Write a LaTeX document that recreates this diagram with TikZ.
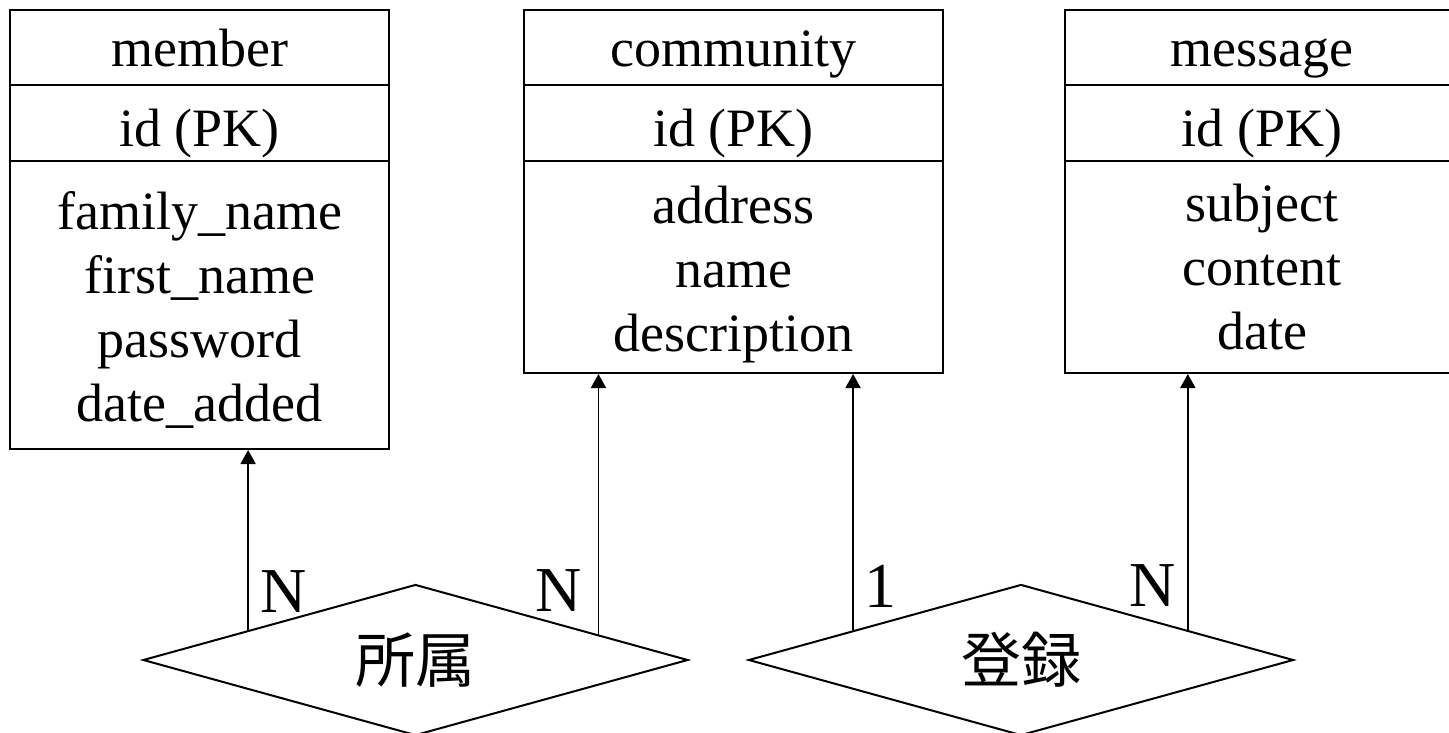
\documentclass[tikz,border=0pt]{standalone}
\usepackage{fontspec}
\setmainfont{Liberation Serif}
\newfontfamily\jpfont{Noto Sans CJK JP}
\usetikzlibrary{arrows.meta,shapes.geometric,calc}

\begin{document}
\begin{tikzpicture}[x=1pt,y=-1pt,line width=2pt]
\useasboundingbox (0,0) rectangle (1449,733);

\begin{scope}[every node/.style={rectangle,draw,inner sep=0pt,align=center,
              font=\fontsize{54}{64}\selectfont}]
    % table heads
    \node[minimum width=379pt,minimum height=75pt,text height=39pt,text depth=0pt] (member)    at (199.5,47.5) {member};
    \node[minimum width=419pt,minimum height=75pt,text height=39pt,text depth=0pt] (community) at (733.5,47.5) {community};
    \node[minimum width=394pt,minimum height=75pt,text height=39pt,text depth=0pt] (message)   at (1262 ,47.5) {message};

    % primary keys
    \node[minimum width=379pt,minimum height=76pt,text height=48pt,text depth=0pt] (memberid)    at (199.5,123) {id (PK)};
    \node[minimum width=419pt,minimum height=76pt,text height=48pt,text depth=0pt] (communityid) at (733.5,123) {id (PK)};
    \node[minimum width=394pt,minimum height=76pt,text height=48pt,text depth=0pt] (messageid)   at (1262 ,123) {id (PK)};

    % columns
    \node[minimum width=379pt,minimum height=288pt] (membercols)    at (199.5,305) {\rule{0pt}{47pt}family\_name\\first\_name\\password\\date\_added};
    \node[minimum width=419pt,minimum height=212pt] (communitycols) at (733.5,267) {\rule{0pt}{52pt}address\\name\\description};
    \node[minimum width=394pt,minimum height=212pt] (messagecols)   at (1262 ,267) {subject\\content\\date};
\end{scope}

\begin{scope}[every node/.style={diamond,draw,inner sep=0pt,aspect=3.6,
              minimum width=545pt,minimum height=151pt,
              font=\jpfont\fontsize{60}{60}\selectfont}]
    \node (belongs)   at (415.5,660) {所属};
    \node (registers) at (1021 ,660) {登録};
\end{scope}

\coordinate (b1) at ($(belongs.west)!0.388!(belongs.north)$);
\coordinate (b2) at ($(belongs.north)!0.669!(belongs.east)$);
\coordinate (r1) at ($(registers.west)!0.386!(registers.north)$);
\coordinate (r2) at ($(registers.north)!0.610!(registers.east)$);

\begin{scope}[>={Triangle[length=14pt,width=15pt]},
              every edge/.style={draw,line width=1.8pt}]
    \path [->] (b1) edge (b1 |- membercols.south);
    \path [->] (b2) edge (b2 |- communitycols.south);
    \path [->] (r1) edge (r1 |- communitycols.south);
    \path [->] (r2) edge (r2 |- messagecols.south);
\end{scope}

\begin{scope}[every node/.style={inner sep=0pt,font=\fontsize{64}{64}\selectfont}]
    \node[anchor=base west] (n1) at (259 ,612) {N};
    \node[anchor=base east] (n2) at (583 ,611) {N};
    \node[anchor=base west] (n3) at (863 ,607) {1};
    \node[anchor=base east] (n4) at (1177,606) {N};
\end{scope}
\end{tikzpicture}
\end{document}
